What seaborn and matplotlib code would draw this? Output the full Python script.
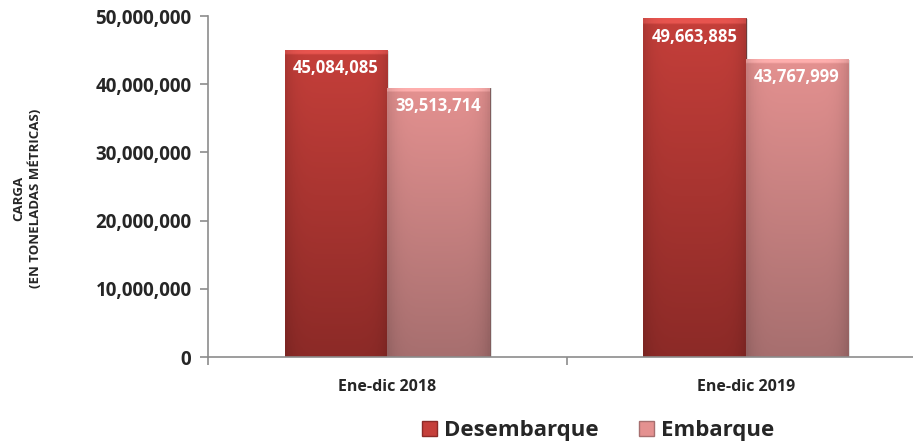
import numpy as np
import pandas as pd
import matplotlib.pyplot as plt
import matplotlib.colors as mcolors
from matplotlib.patches import Patch
import seaborn as sns

periodos = ["Ene-dic 2018", "Ene-dic 2019"]
tipos = ["Desembarque", "Embarque"]
desembarque = [45084085, 49663885]
embarque = [39513714, 43767999]

colores = {"Desembarque": ("#c53f3a", "#8c2a27"),
           "Embarque": ("#e49190", "#a76f6f")}

df = pd.DataFrame({
    "periodo": periodos * 2,
    "tipo": [tipos[0]] * 2 + [tipos[1]] * 2,
    "carga": desembarque + embarque,
})

sns.set_style("white")
plt.rcParams["font.family"] = ["Open Sans", "DejaVu Sans"]
plt.rcParams["font.weight"] = "bold"

fig = plt.figure(figsize=(9.13, 4.48), dpi=100)
ax = fig.add_axes([0.228, 0.203, 0.785, 0.761])

paleta = {t: colores[t][0] for t in tipos}
sns.barplot(data=df, x="periodo", y="carga", hue="tipo", hue_order=tipos,
            palette=paleta, width=0.572, ax=ax, legend=False, saturation=1)

ax.set_ylim(0, 50000000)
ax.set_xlim(-0.5, 1.5)


def gradiente(c_top, c_bot, n=120):
    top = np.array(mcolors.to_rgb(c_top))
    bot = np.array(mcolors.to_rgb(c_bot))
    t = np.linspace(0, 1, n)[:, None]
    vert = top * (1 - t) + bot * t
    vert[:2] = np.clip(top * 1.1 + 0.06, 0, 1)  # bevel highlight
    xs = np.linspace(-1, 1, 40)
    edge = 1 - 0.12 * np.abs(xs) ** 6
    img = vert[:, None, :] * edge[None, :, None]
    return np.clip(img, 0, 1)


# bars: gradient fill clipped to each patch
n_per = len(periodos)
for i, patch in enumerate(ax.patches[:len(df)]):
    tipo = tipos[i // n_per]
    x, w, h = patch.get_x(), patch.get_width(), patch.get_height()
    patch.set_facecolor("none")
    patch.set_edgecolor("#5a1a18" if tipo == "Desembarque" else "#6e4444")
    patch.set_linewidth(0.6)
    # soft shadow
    sh = plt.Rectangle((x + 0.006, 0), w, h * 0.997, facecolor="#000000",
                       alpha=0.12, zorder=patch.get_zorder() - 0.5, linewidth=0)
    ax.add_patch(sh)
    im = ax.imshow(gradiente(*colores[tipo]), extent=[x, x + w, 0, h],
                   aspect="auto", zorder=patch.get_zorder(), origin="upper")
    im.set_clip_path(patch)
    ax.text(x + w / 2, h - 1400000, f"{h:,.0f}", ha="center", va="top",
            color="white", fontsize=12, fontweight="bold",
            zorder=patch.get_zorder() + 1)

# axes styling
for s in ["top", "right"]:
    ax.spines[s].set_visible(False)
for s in ["left", "bottom"]:
    ax.spines[s].set_color("#8c8c8c")
    ax.spines[s].set_linewidth(1.2)

ax.set_yticks(np.arange(0, 50000001, 10000000))
ax.yaxis.set_major_formatter(plt.FuncFormatter(lambda v, p: f"{v:,.0f}"))
ax.tick_params(axis="y", left=True, length=6, color="#8c8c8c", width=1.2,
               labelsize=13.5, pad=6)
ax.tick_params(axis="x", bottom=False, labelsize=11.5, pad=12)
ax.set_xticks(range(len(periodos)))
ax.set_xticklabels(periodos, fontweight="bold")
ax.set_xticks([-0.5, 0.5, 1.5], minor=True)
ax.tick_params(axis="x", which="minor", bottom=True, length=6,
               color="#8c8c8c", width=1.2)
for lbl in ax.get_yticklabels():
    lbl.set_fontweight("bold")

ax.set_xlabel("")
ax.set_ylabel("")
fig.text(0.03, 0.558, "CARGA\n(EN TONELADAS MÉTRICAS)", rotation=90,
         ha="center", va="center", fontsize=9.5, fontweight="bold",
         multialignment="center", linespacing=1.3)

handles = [Patch(facecolor=colores[t][0], edgecolor=colores[t][1]) for t in tipos]
fig.legend(handles, tipos, loc="lower center", bbox_to_anchor=(0.655, -0.03),
           ncol=2, frameon=False, prop={"size": 16, "weight": "bold"},
           handlelength=0.7, handleheight=0.7, handletextpad=0.3,
           columnspacing=1.8)

fig.savefig("out.png", dpi=100)
